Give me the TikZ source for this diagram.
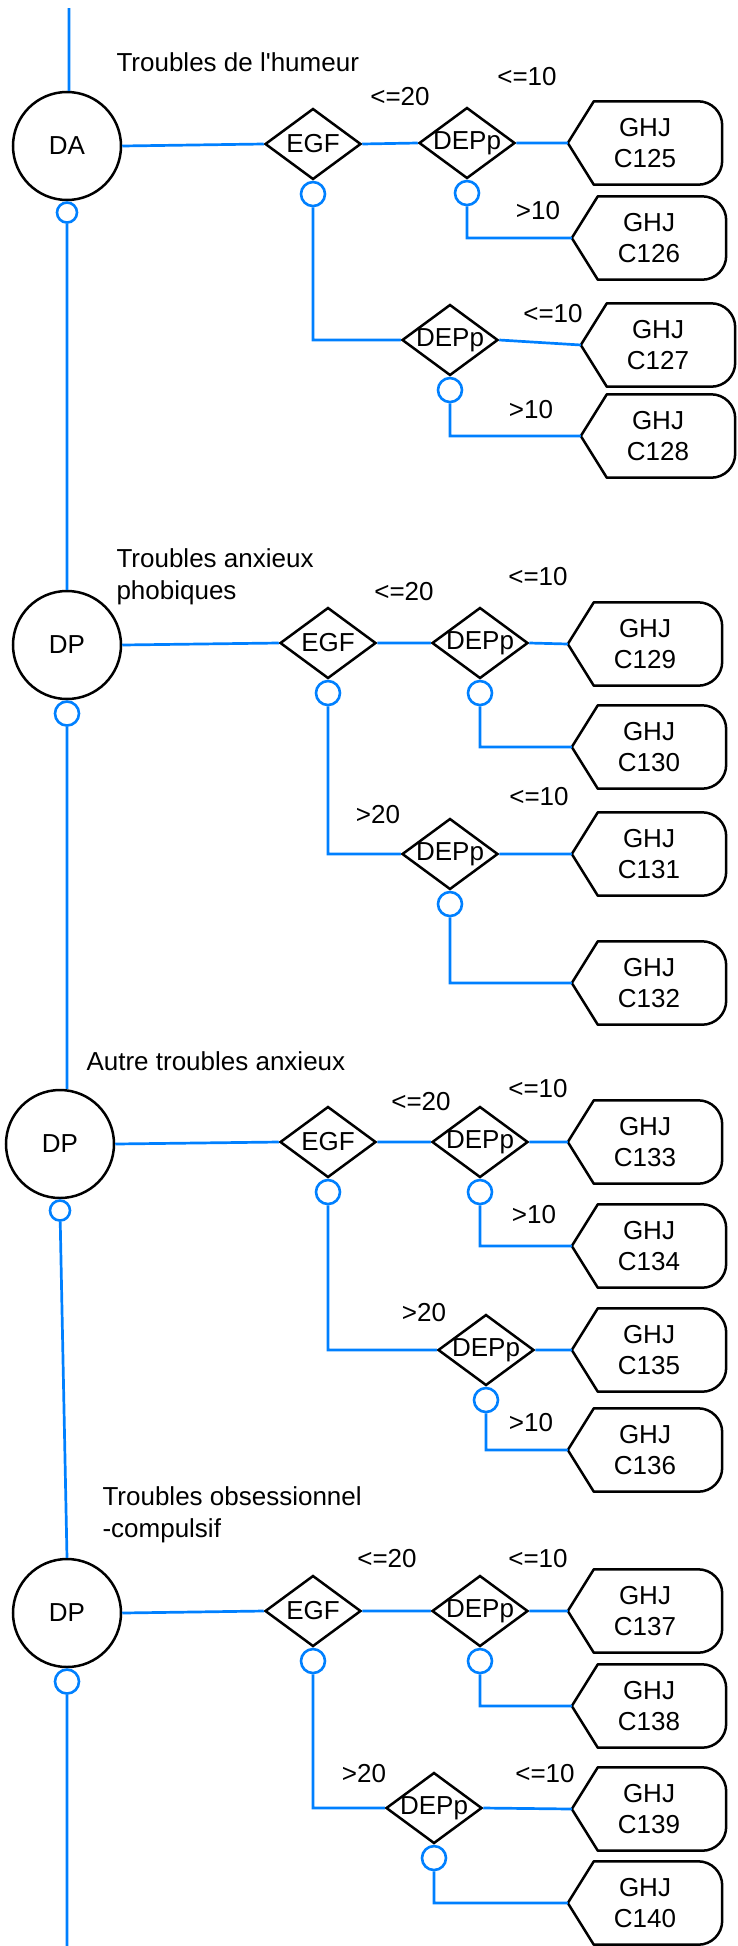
\documentclass[tikz,border=0pt]{standalone}
\usepackage{fontspec}
\setmainfont{Liberation Sans}
\usetikzlibrary{shapes.geometric,positioning}
\definecolor{linkblue}{RGB}{0,128,255}

\begin{document}
\begin{tikzpicture}[x=1pt,y=-1pt,
  every node/.style={font=\fontsize{26}{31.5}\selectfont},
  state/.style={circle,draw,line width=2.5pt,minimum size=108pt,inner sep=0pt},
  test/.style={diamond,draw,line width=2.5pt,minimum width=96pt,minimum height=71pt,inner sep=0pt},
  knot/.style={circle,draw=linkblue,line width=2.6pt,minimum size=24pt,inner sep=0pt},
  ghj/.style={minimum width=154pt,minimum height=83pt,inner sep=0pt,align=center},
  cond/.style={inner sep=0pt},
  link/.style={draw=linkblue,line width=2.7pt},
  boxline/.style={draw,line width=2.5pt,line join=round}]
\useasboundingbox (0,0) rectangle (737,1946);

% Troubles de l'humeur
\coordinate (top) at (69,8);
\node[state] (hum) at (67,146) {DA};
\node[knot,minimum size=20pt,below=0pt of hum] (hum-o) {};
\node[anchor=west] (hum-t) at (113,62) {Troubles de l\textquotesingle humeur};
\node[test] (hum-egf) at (313,144) {\makebox[0pt]{EGF}};
\node[knot,below=0pt of hum-egf] (hum-egf-o) {};
\node[test] (hum-dep1) at (467,143) {\makebox[0pt]{DEPp}};
\node[knot,below=0pt of hum-dep1] (hum-dep1-o) {};
\node[test] (hum-dep2) at (450,340) {\makebox[0pt]{DEPp}};
\node[knot,below=0pt of hum-dep2] (hum-dep2-o) {};
\node[ghj] (c125) at (645,143) {GHJ\\C125};
\node[ghj] (c126) at (649,238) {GHJ\\C126};
\node[ghj] (c127) at (658,345) {GHJ\\C127};
\node[ghj] (c128) at (658,436) {GHJ\\C128};
\node[cond] (hum-c1) at (400,97) {<=20};
\node[cond] (hum-c2) at (527,77) {<=10};
\node[cond] (hum-c3) at (538,211) {>10};
\node[cond] (hum-c4) at (553,314) {<=10};
\node[cond] (hum-c5) at (531,410) {>10};

% Troubles anxieux phobiques
\node[state] (pho) at (67,645) {DP};
\node[knot,below=0pt of pho] (pho-o) {};
\node[anchor=west,align=left] (pho-t) at (113,577) {Troubles anxieux\\phobiques};
\node[test] (pho-egf) at (328,643) {\makebox[0pt]{EGF}};
\node[knot,below=0pt of pho-egf] (pho-egf-o) {};
\node[test] (pho-dep1) at (480,643) {\makebox[0pt]{DEPp}};
\node[knot,below=0pt of pho-dep1] (pho-dep1-o) {};
\node[test] (pho-dep2) at (450,854) {\makebox[0pt]{DEPp}};
\node[knot,below=0pt of pho-dep2] (pho-dep2-o) {};
\node[ghj] (c129) at (645,644) {GHJ\\C129};
\node[ghj] (c130) at (649,747) {GHJ\\C130};
\node[ghj] (c131) at (649,854) {GHJ\\C131};
\node[ghj] (c132) at (649,983) {GHJ\\C132};
\node[cond] (pho-c1) at (404,592) {<=20};
\node[cond] (pho-c2) at (538,577) {<=10};
\node[cond] (pho-c3) at (378,815) {>20};
\node[cond] (pho-c4) at (539,797) {<=10};

% Autre troubles anxieux
\node[state] (anx) at (60,1144) {DP};
\node[knot,minimum size=20pt,below=0pt of anx] (anx-o) {};
\node[anchor=west] (anx-t) at (83,1061) {Autre troubles anxieux};
\node[test] (anx-egf) at (328,1142) {\makebox[0pt]{EGF}};
\node[knot,below=0pt of anx-egf] (anx-egf-o) {};
\node[test] (anx-dep1) at (480,1142) {\makebox[0pt]{DEPp}};
\node[knot,below=0pt of anx-dep1] (anx-dep1-o) {};
\node[test] (anx-dep2) at (486,1350) {\makebox[0pt]{DEPp}};
\node[knot,below=0pt of anx-dep2] (anx-dep2-o) {};
\node[ghj] (c133) at (645,1142) {GHJ\\C133};
\node[ghj] (c134) at (649,1246) {GHJ\\C134};
\node[ghj] (c135) at (649,1350) {GHJ\\C135};
\node[ghj] (c136) at (645,1450) {GHJ\\C136};
\node[cond] (anx-c1) at (421,1102) {<=20};
\node[cond] (anx-c2) at (538,1089) {<=10};
\node[cond] (anx-c3) at (534,1215) {>10};
\node[cond] (anx-c4) at (424,1313) {>20};
\node[cond] (anx-c5) at (531,1423) {>10};

% Troubles obsessionnel-compulsif
\node[state] (toc) at (67,1613) {DP};
\node[knot,below=0pt of toc] (toc-o) {};
\node[anchor=west,align=left] (toc-t) at (99,1515) {Troubles obsessionnel\\-compulsif};
\node[test] (toc-egf) at (313,1611) {\makebox[0pt]{EGF}};
\node[knot,below=0pt of toc-egf] (toc-egf-o) {};
\node[test] (toc-dep1) at (480,1611) {\makebox[0pt]{DEPp}};
\node[knot,below=0pt of toc-dep1] (toc-dep1-o) {};
\node[test] (toc-dep2) at (434,1808) {\makebox[0pt]{DEPp}};
\node[knot,below=0pt of toc-dep2] (toc-dep2-o) {};
\node[ghj] (c137) at (645,1611) {GHJ\\C137};
\node[ghj] (c138) at (649,1706) {GHJ\\C138};
\node[ghj] (c139) at (649,1809) {GHJ\\C139};
\node[ghj] (c140) at (645,1903) {GHJ\\C140};
\node[cond] (toc-c1) at (387,1559) {<=20};
\node[cond] (toc-c2) at (538,1559) {<=10};
\node[cond] (toc-c3) at (364,1774) {>20};
\node[cond] (toc-c4) at (545,1774) {<=10};
\coordinate (bottom) at (67,1946);

% outlines of the GHJ boxes
\foreach \n in {125,...,140}
  \draw[boxline] (c\n.west) -- ([xshift=26pt]c\n.north west) -- ([xshift=-24pt]c\n.north east)
    .. controls ([xshift=-10.7pt]c\n.north east) and ([yshift=-10.7pt]c\n.north east) .. ([yshift=-24pt]c\n.north east)
    -- ([yshift=24pt]c\n.south east)
    .. controls ([yshift=10.7pt]c\n.south east) and ([xshift=-10.7pt]c\n.south east) .. ([xshift=-24pt]c\n.south east)
    -- ([xshift=26pt]c\n.south west) -- cycle;

% connectors
\draw[link] (top) -- (top |- hum.north)
  (hum.east) -- (hum-egf.west) (hum-egf.east) -- (hum-dep1.west)
  (hum-dep1.east) -- (c125.west) (hum-dep1-o) |- (c126.west)
  (hum-egf-o) |- (hum-dep2.west) (hum-dep2.east) -- (c127.west)
  (hum-dep2-o) |- (c128.west)
  (hum-o) -- (pho.north);
\draw[link] (pho.east) -- (pho-egf.west) (pho-egf.east) -- (pho-dep1.west)
  (pho-dep1.east) -- (c129.west) (pho-dep1-o) |- (c130.west)
  (pho-egf-o) |- (pho-dep2.west) (pho-dep2.east) -- (c131.west)
  (pho-dep2-o) |- (c132.west)
  (pho-o) -- (pho-o |- anx.north);
\draw[link] (anx.east) -- (anx-egf.west) (anx-egf.east) -- (anx-dep1.west)
  (anx-dep1.east) -- (c133.west) (anx-dep1-o) |- (c134.west)
  (anx-egf-o) |- (anx-dep2.west) (anx-dep2.east) -- (c135.west)
  (anx-dep2-o) |- (c136.west)
  (anx-o) -- (toc.north);
\draw[link] (toc.east) -- (toc-egf.west) (toc-egf.east) -- (toc-dep1.west)
  (toc-dep1.east) -- (c137.west) (toc-dep1-o) |- (c138.west)
  (toc-egf-o) |- (toc-dep2.west) (toc-dep2.east) -- (c139.west)
  (toc-dep2-o) |- (c140.west)
  (toc-o) -- (bottom);
\end{tikzpicture}
\end{document}
